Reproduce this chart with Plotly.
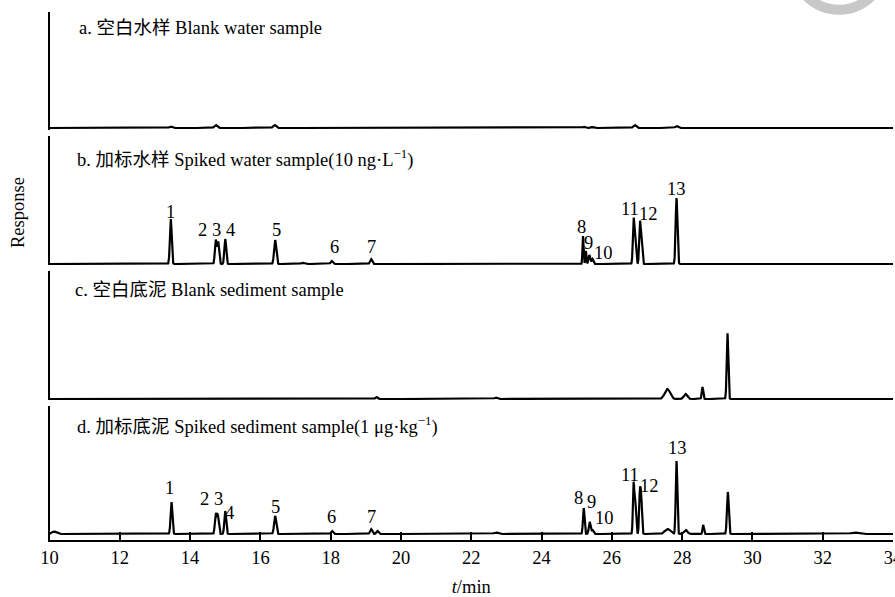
import numpy as np
import plotly.graph_objects as go

# ---------------- data (retention time, min / response, a.u. / peak sigma, min) ----------------
panel_titles = [
    "a. 空白水样 Blank water sample",
    "b. 加标水样 Spiked water sample(10 ng·L<sup>−1</sup>)",
    "c. 空白底泥 Blank sediment sample",
    "d. 加标底泥 Spiked sediment sample(1 μg·kg<sup>−1</sup>)",
]

a_times = [13.45, 14.73, 16.40, 25.20, 25.45, 26.65, 27.84]
a_heights = [1.5, 3.0, 3.0, 1.2, 1.0, 3.0, 2.0]
a_widths = [0.04, 0.04, 0.04, 0.04, 0.04, 0.04, 0.04]

b_times = [13.45, 14.73, 14.80, 15.00, 16.42, 17.20, 18.03, 19.15,
           25.18, 25.26, 25.36, 25.45, 26.62, 26.67, 26.80, 26.85, 27.84]
b_heights = [45, 24, 22, 25, 24, 1.2, 3, 5,
             28, 13, 9, 5, 45, 30, 42, 28, 66]
b_widths = [0.025, 0.025, 0.025, 0.025, 0.03, 0.05, 0.03, 0.03,
            0.015, 0.015, 0.025, 0.025, 0.022, 0.02, 0.022, 0.02, 0.025]

c_times = [19.30, 22.70, 27.58, 28.10, 28.58, 29.29]
c_heights = [2, 1.5, 10, 5, 12, 66]
c_widths = [0.03, 0.04, 0.075, 0.05, 0.02, 0.022]

d_times = [10.13, 13.47, 14.73, 14.79, 15.00, 16.42, 18.04, 19.15, 19.33, 22.70,
           25.20, 25.37, 25.45, 26.62, 26.67, 26.80, 26.84, 27.59, 27.84, 28.10,
           28.60, 29.30, 32.90]
d_heights = [2.5, 32, 20, 18, 23, 18, 3, 5, 3, 1.5,
             26, 12, 4, 51, 30, 42, 30, 5, 73, 4,
             9, 42, 1.5]
d_widths = [0.06, 0.025, 0.025, 0.025, 0.025, 0.03, 0.03, 0.03, 0.03, 0.06,
            0.022, 0.025, 0.03, 0.02, 0.02, 0.022, 0.02, 0.08, 0.022, 0.05,
            0.02, 0.025, 0.1]

peak_ids = ["1", "2", "3", "4", "5", "6", "7", "8", "9", "10", "11", "12", "13"]
x_ticks = [10, 12, 14, 16, 18, 20, 22, 24, 26, 28, 30, 32, 34]

# label placement (x in min, y in response units)
b_lab_x = [13.43, 14.34, 14.74, 15.14, 16.45, 18.10, 19.16, 25.13, 25.34, 25.77, 26.51, 27.05, 27.84]
b_lab_y = [52, 34, 34, 34, 34, 17, 17, 37, 21, 11, 55, 50, 75]
d_lab_x = [13.40, 14.40, 14.80, 15.13, 16.42, 18.02, 19.15, 25.04, 25.42, 25.80, 26.51, 27.06, 27.87]
d_lab_y = [46, 35, 35, 21, 27, 17, 17, 36, 32, 16, 59, 48, 86]

# ---------------- build traces ----------------
t = np.arange(10.0, 34.0001, 0.004)


def chromatogram(times, heights, widths):
    y = np.zeros_like(t)
    for tc, h, w in zip(times, heights, widths):
        y += h * np.exp(-0.5 * ((t - tc) / w) ** 2)
    return y


series = [
    chromatogram(a_times, a_heights, a_widths),
    chromatogram(b_times, b_heights, b_widths),
    chromatogram(c_times, c_heights, c_widths),
    chromatogram(d_times, d_heights, d_widths),
]

W, H = 895, 597
FONT = "Liberation Serif, Times New Roman, Noto Sans CJK SC, serif"
FS = 18.5

# panel pixel extents (top, bottom)
panels_px = [(12, 130), (136, 265), (271, 400), (406, 540)]
y_ranges = [[-2, 116], [-1, 128], [-1, 128], [-6, 128]]
x_dom = [49.5 / W, 893 / W]

fig = go.Figure()
for i, y in enumerate(series):
    ax = "" if i == 0 else str(i + 1)
    fig.add_trace(go.Scatter(x=t, y=y, mode="lines",
                             line=dict(color="black", width=2.2),
                             xaxis="x" + ax, yaxis="y" + ax,
                             showlegend=False, hoverinfo="skip"))

layout = dict(template="none", width=W, height=H, margin=dict(l=0, r=0, t=0, b=0, autoexpand=False),
              plot_bgcolor="white", paper_bgcolor="white",
              font=dict(family=FONT, size=FS, color="black"))

for i in range(4):
    ax = "" if i == 0 else str(i + 1)
    top, bot = panels_px[i]
    last = (i == 3)
    layout["xaxis" + ax] = dict(
        domain=x_dom, range=[10, 34], anchor="y" + ax, automargin=False,
        showgrid=False, zeroline=False,
        showline=last, linecolor="black", linewidth=2,
        ticks="inside" if last else "", ticklen=8, tickwidth=1.5, tickcolor="black",
        tickvals=x_ticks if last else [], showticklabels=last,
        ticklabeloverflow="allow",
        tickfont=dict(family=FONT, size=FS),
        title=dict(text="<i>t</i>/min", font=dict(family=FONT, size=FS), standoff=17) if last else None,
    )
    layout["yaxis" + ax] = dict(
        domain=[1 - bot / H, 1 - top / H], range=y_ranges[i], anchor="x" + ax, automargin=False,
        showgrid=False, zeroline=False, showticklabels=False, ticks="",
        showline=True, linecolor="black", linewidth=2,
    )

fig.update_layout(**layout)

annotations = []
title_px = [(77, 28), (75, 158), (73, 290), (75, 425)]
for (px, py), txt in zip(title_px, panel_titles):
    annotations.append(dict(text=txt, x=px / W, y=1 - py / H, xref="paper", yref="paper",
                            xanchor="left", yanchor="middle", showarrow=False,
                            font=dict(family=FONT, size=FS)))

for lx, ly, lab in zip(b_lab_x, b_lab_y, peak_ids):
    annotations.append(dict(text=lab, x=lx, y=ly, xref="x2", yref="y2", showarrow=False,
                            xanchor="center", yanchor="middle", font=dict(family=FONT, size=FS)))
for lx, ly, lab in zip(d_lab_x, d_lab_y, peak_ids):
    annotations.append(dict(text=lab, x=lx, y=ly, xref="x4", yref="y4", showarrow=False,
                            xanchor="center", yanchor="middle", font=dict(family=FONT, size=FS)))

annotations.append(dict(text="Response", x=18 / W, y=1 - 213 / H, xref="paper", yref="paper",
                        textangle=-90, showarrow=False, xanchor="center", yanchor="middle",
                        font=dict(family=FONT, size=FS)))
fig.update_layout(annotations=annotations)

# faint watermark ring at top right
cx, cy, r = 839, -36, 45.7
fig.add_shape(type="circle", xref="paper", yref="paper",
              x0=(cx - r) / W, x1=(cx + r) / W, y0=1 - (cy + r) / H, y1=1 - (cy - r) / H,
              line=dict(color="#c8c8c8", width=10), fillcolor="rgba(0,0,0,0)", layer="below")

fig.write_html("out.html", config={"displayModeBar": False},
               post_script="document.body.style.margin='0';document.body.style.overflow='hidden';")
